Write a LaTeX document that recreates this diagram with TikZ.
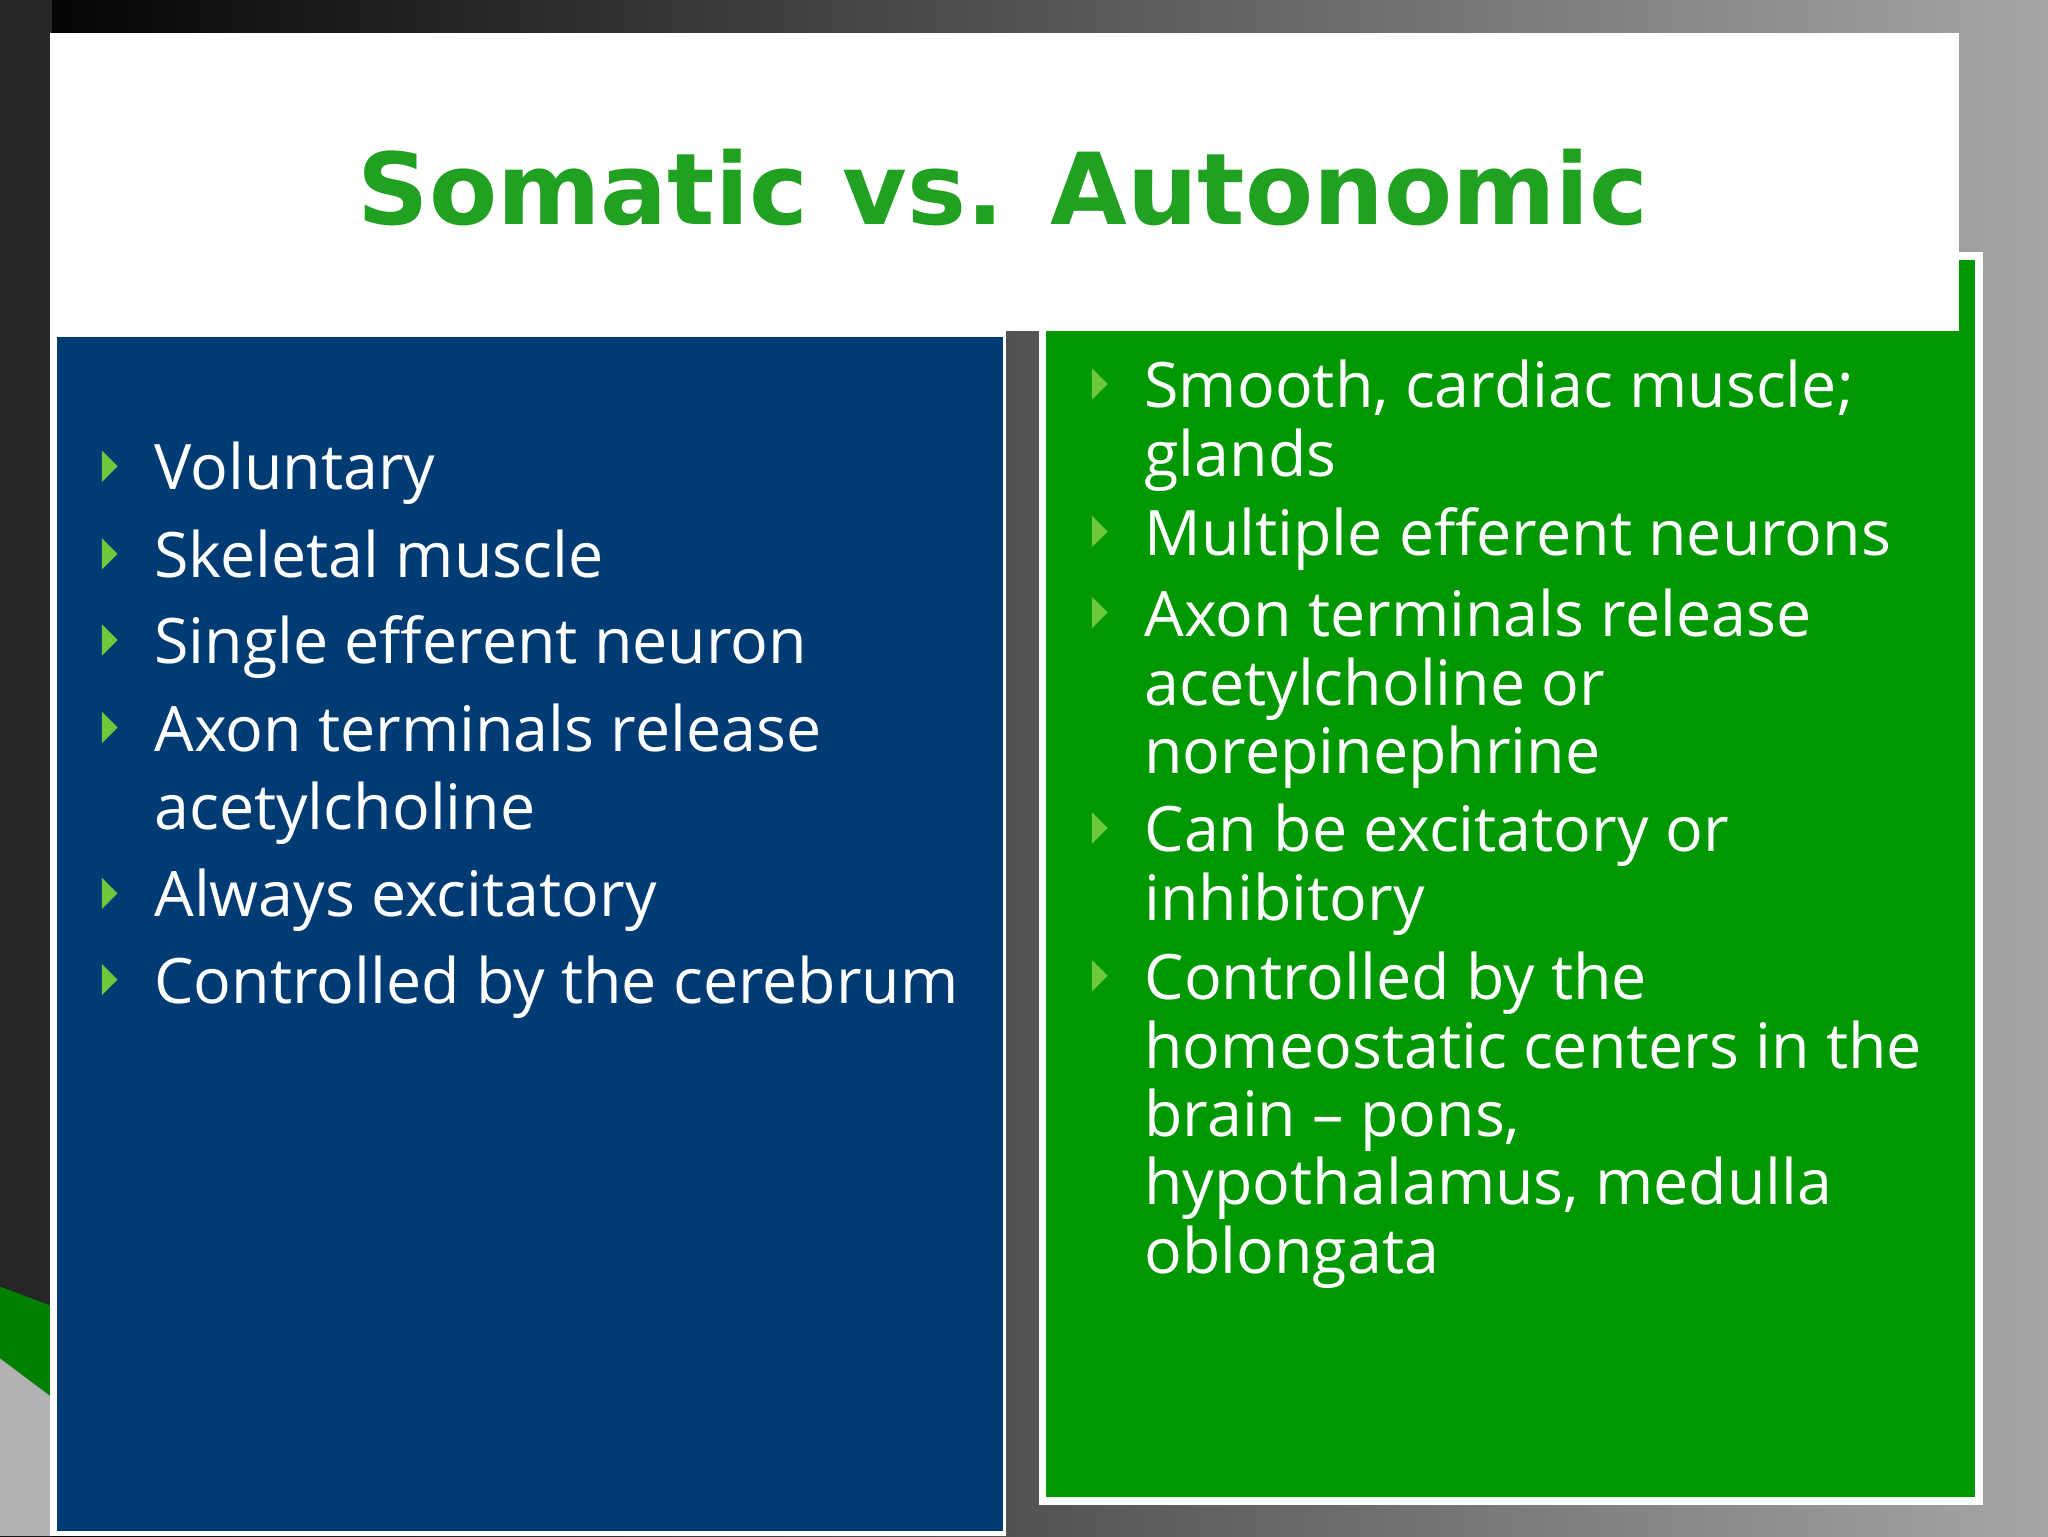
\documentclass[tikz,border=0pt]{standalone}
\usepackage{fontspec}
\setmainfont{Open Sans}
\newfontfamily\titlefont{DejaVu Sans}
\begin{document}
\begin{tikzpicture}[x=1pt,y=-1pt,
  body/.style={anchor=base west,text=white,font=\fontsize{48}{52}\selectfont,inner sep=0pt},
  bul/.style={fill={rgb,255:red,110;green,200;blue,60},draw=none}]
\useasboundingbox (0,0) rectangle (1568,1176);
\shade[left color=black,right color=gray!70] (0,0) rectangle (1568,1176);
\fill[black!85] (0,0) rectangle (40,1176);
\fill[green!50!black] (0,985) -- (40,1000) -- (40,1070) -- (0,1040) -- cycle;
\fill[gray!60] (0,1040) -- (40,1070) -- (40,1176) -- (0,1176) -- cycle;
% boxes
\node[fill=white,minimum width=732,minimum height=924,anchor=north west,inner sep=0] (lw) at (38,252) {};
\node[fill=white,minimum width=723,minimum height=959,anchor=north west,inner sep=0] (rw) at (795,193) {};
\fill[fill={rgb,255:red,0;green,59;blue,115}] (44,258) rectangle (768,1172);
\fill[fill={rgb,255:red,0;green,152;blue,0}] (801,199) rectangle (1512,1146);
\node[fill=white,minimum width=1462,minimum height=228,anchor=north west,inner sep=0] (tb) at (38,25) {};
\node[anchor=base,inner sep=0,text={rgb,255:red,34;green,160;blue,34},font=\titlefont\bfseries\fontsize{76}{90}\selectfont] (title) at (768,172) {Somatic vs. Autonomic};
% left
\foreach \t/\y in {Voluntary/375,Skeletal muscle/442,Single efferent neuron/508,Axon terminals release/575,Always excitatory/702,Controlled by the cerebrum/768}{
  \fill[bul] (78,\y-30) -- (90,\y-18) -- (78,\y-6) -- cycle;
  \node[body] at (118,\y) {\t};}
\node[body] at (118,635) {acetylcholine};
% right
\foreach \y in {312,425,487,652,765}{\fill[bul] (836,\y-30) -- (848,\y-18) -- (836,\y-6) -- cycle;}
\foreach \t/\y in {{Smooth, cardiac muscle;}/312,glands/365,Multiple efferent neurons/425,Axon terminals release/487,acetylcholine or/540,norepinephrine/592,Can be excitatory or/652,inhibitory/705,Controlled by the/765,homeostatic centers in the/818,{brain – pons,}/870,{hypothalamus, medulla}/922,oblongata/975}{
  \node[body] at (876,\y) {\t};}
\end{tikzpicture}
\end{document}
